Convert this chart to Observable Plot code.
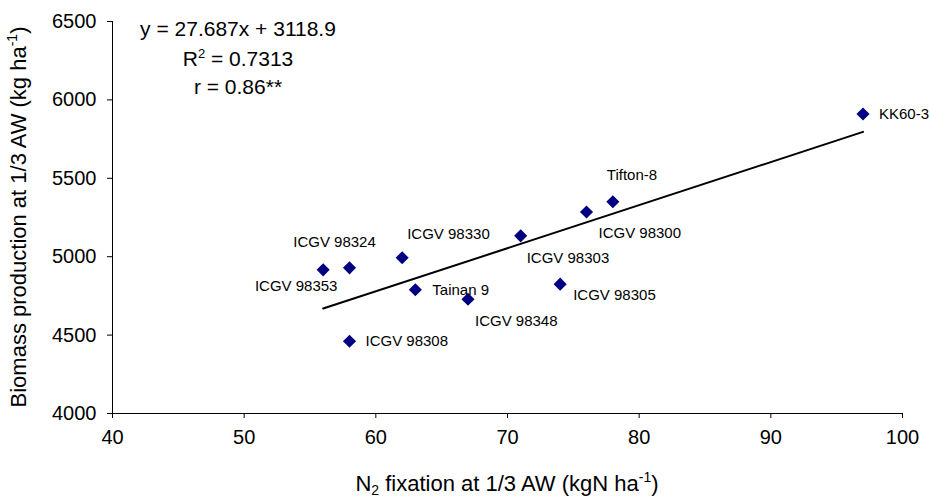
<!DOCTYPE html>
<html><head><meta charset="utf-8">
<script src="https://cdn.jsdelivr.net/npm/d3@7"></script>
<script src="https://cdn.jsdelivr.net/npm/@observablehq/plot@0.6"></script>
<style>
html,body{margin:0;padding:0;background:#fff;}
#chart svg{display:block;}
</style></head><body><div id="chart"></div>
<script>
const genotypes = ["ICGV 98353","ICGV 98324","ICGV 98308","ICGV 98330","Tainan 9","ICGV 98348","ICGV 98303","ICGV 98305","ICGV 98300","Tifton-8","KK60-3"];
const n2Fixation = [56,58,58,62,63,67,71,74,76,78,97];
const biomass = [4916,4929,4461,4993,4789,4729,5133,4825,5285,5350,5910];
const xTicks = [40,50,60,70,80,90,100];
const yTicks = [4000,4500,5000,5500,6000,6500];
const equationLines = ["y = 27.687x + 3118.9", "R|2| = 0.7313", "r = 0.86**"];
const xTitle = ["N", "2", " fixation at 1/3 AW (kgN ha", "-1", ")"];
const yTitle = ["Biomass production at 1/3 AW (kg ha", "-1", ")"];

// label layout: pixel offsets of each point label
const labelPlacement = {
  "ICGV 98353": {dx:-27, dy:16, anchor:"middle"},
  "ICGV 98324": {dx:-15, dy:-26, anchor:"middle"},
  "ICGV 98308": {dx:16, dy:0, anchor:"start"},
  "ICGV 98330": {dx:5, dy:-24, anchor:"start"},
  "Tainan 9": {dx:17, dy:0, anchor:"start"},
  "ICGV 98348": {dx:7, dy:22, anchor:"start"},
  "ICGV 98303": {dx:6, dy:22, anchor:"start"},
  "ICGV 98305": {dx:13, dy:11, anchor:"start"},
  "ICGV 98300": {dx:12, dy:21, anchor:"start"},
  "Tifton-8": {dx:-6, dy:-27, anchor:"start"},
  "KK60-3": {dx:16, dy:0, anchor:"start"}
};

const data = genotypes.map((g, i) => ({name: g, x: n2Fixation[i], y: biomass[i]}));
const FONT = '"Liberation Sans", Arial, sans-serif';

const chart = Plot.plot({
  width: 930, height: 501,
  marginLeft: 112, marginRight: 28, marginTop: 21, marginBottom: 88,
  style: {fontFamily: FONT, color: "#000", background: "#fff"},
  x: {domain: [40, 100]},
  y: {domain: [4000, 6500]},
  marks: [
    Plot.axisX({ticks: xTicks, tickSize: 5, tickPadding: 11, tickFormat: d => String(d), fontSize: 20, label: null, stroke: "#000"}),
    Plot.axisY({ticks: yTicks, tickSize: 5, tickPadding: 11, tickFormat: d => String(d), fontSize: 20, label: null, stroke: "#000"}),
    Plot.ruleX([40], {stroke: "#000", strokeWidth: 1}),
    Plot.ruleY([4000], {stroke: "#000", strokeWidth: 1}),
    Plot.linearRegressionY(data, {x: "x", y: "y", stroke: "#000", strokeWidth: 2, ci: 0}),
    Plot.dot(data, {x: "x", y: "y", symbol: "diamond2", r: 5.9, fill: "#000080", stroke: "none"}),
    ...data.map(d => {
      const p = labelPlacement[d.name];
      return Plot.text([d], {x: "x", y: "y", text: "name", dx: p.dx, dy: p.dy, textAnchor: p.anchor, fontSize: 15, fill: "#000"});
    })
  ]
});
document.getElementById("chart").appendChild(chart);

const svg = d3.select(chart);
// equation annotation
const eq = svg.append("g").attr("font-family", FONT).attr("font-size", 21).attr("fill", "#000").attr("text-anchor", "middle");
const eqBaselines = [36, 66, 94];
equationLines.forEach((line, i) => {
  const t = eq.append("text").attr("x", 238).attr("y", eqBaselines[i]);
  line.split("|").forEach((part, j) => {
    if (j % 2 === 1) t.append("tspan").attr("font-size", 13).attr("dy", -8).text(part);
    else t.append("tspan").attr("dy", j > 0 ? 8 : 0).text(part);
  });
});

// x axis title with subscript / superscript
const xt = svg.append("text").attr("x", 507).attr("y", 491).attr("text-anchor", "middle")
  .attr("font-family", FONT).attr("font-size", 22).attr("fill", "#000");
xt.append("tspan").text(xTitle[0]);
xt.append("tspan").attr("font-size", 14).attr("dy", 4).text(xTitle[1]);
xt.append("tspan").attr("dy", -4).text(xTitle[2]);
xt.append("tspan").attr("font-size", 14).attr("dy", -9).text(xTitle[3]);
xt.append("tspan").attr("dy", 9).text(xTitle[4]);

// y axis title
const yt = svg.append("text").attr("transform", "translate(26,217) rotate(-90)").attr("text-anchor", "middle")
  .attr("font-family", FONT).attr("font-size", 22).attr("fill", "#000");
yt.append("tspan").text(yTitle[0]);
yt.append("tspan").attr("font-size", 14).attr("dy", -9).text(yTitle[1]);
yt.append("tspan").attr("dy", 9).text(yTitle[2]);
</script></body></html>
